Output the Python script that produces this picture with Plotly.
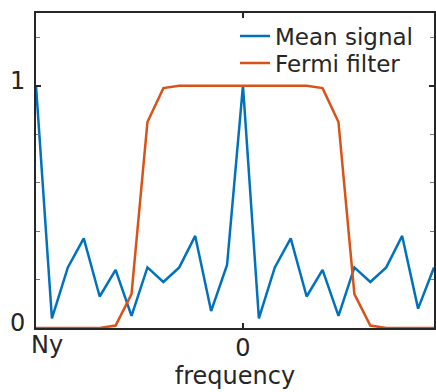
import plotly.graph_objects as go

freq = list(range(-13, 13))
mean_signal = [1.0, 0.04, 0.25, 0.37, 0.13, 0.24, 0.05, 0.25, 0.19, 0.25, 0.38, 0.07, 0.26,
               1.0, 0.04, 0.25, 0.37, 0.13, 0.24, 0.05, 0.25, 0.19, 0.25, 0.38, 0.08, 0.25]
fermi_filter = [0, 0, 0, 0, 0, 0.01, 0.14, 0.85, 0.99, 1, 1, 1, 1,
                1, 1, 1, 1, 1, 0.99, 0.85, 0.14, 0.01, 0, 0, 0, 0]
x_tickvals = [-13, 0]
x_ticktext = ["Ny", "0"]
y_tickvals = [0, 1]
y_ticktext = ["0", "1"]
x_range = [freq[0], freq[-1]]

blue = "#0072BD"
orange = "#D95319"
axis_col = "#262626"
font = "DejaVu Sans"

fig = go.Figure()
fig.add_trace(go.Scatter(x=freq, y=mean_signal, mode="lines", name="Mean signal",
                         line=dict(color=blue, width=2.5), legend="legend",
                         xaxis="x", yaxis="y"))
fig.add_trace(go.Scatter(x=freq, y=fermi_filter, mode="lines", name="Fermi filter",
                         line=dict(color=orange, width=2.5), legend="legend2",
                         xaxis="x2", yaxis="y"))

leg_common = dict(xanchor="left", yanchor="middle", bgcolor="rgba(0,0,0,0)", borderwidth=0,
                  font=dict(size=23, color=axis_col), itemwidth=30)

fig.update_layout(
    width=436, height=392,
    margin=dict(l=36, r=0, t=13, b=64),
    paper_bgcolor="white", plot_bgcolor="white",
    font=dict(family=font, size=24, color=axis_col),
    showlegend=True,
    legend=dict(x=(236 - 36) / 400, y=(328 - 36) / 315, **leg_common),
    legend2=dict(x=(236 - 36) / 400, y=(328 - 63) / 315, **leg_common),
    xaxis=dict(range=x_range, tickvals=x_tickvals, ticktext=["", x_ticktext[1]],
               ticks="inside", ticklen=5, tickwidth=1.5, tickcolor=axis_col,
               showline=True, linecolor=axis_col, linewidth=2, mirror="ticks",
               showgrid=False, zeroline=False, ticklabelstandoff=-3,
               title=dict(text="frequency", font=dict(size=24), standoff=6)),
    xaxis2=dict(range=x_range, overlaying="x", anchor="y", side="bottom",
                tickvals=[x_tickvals[0]], ticktext=[x_ticktext[0]],
                ticks="", showline=False, showgrid=False, zeroline=False,
                ticklabelshift=11, ticklabelstandoff=0),
    yaxis=dict(range=[0, 1.3], tickvals=y_tickvals, ticktext=y_ticktext,
               ticks="inside", ticklen=5, tickwidth=1.5, tickcolor=axis_col,
               showline=True, linecolor=axis_col, linewidth=2, mirror="ticks",
               showgrid=False, zeroline=False, ticklabelshift=-5, ticklabelstandoff=4,
               minor=dict(tickvals=[0.2, 0.4, 0.6, 0.8, 1.2], ticks="inside", ticklen=4,
                          tickwidth=1, tickcolor="#777777", showgrid=False)),
)

fig.write_html("out.html")
